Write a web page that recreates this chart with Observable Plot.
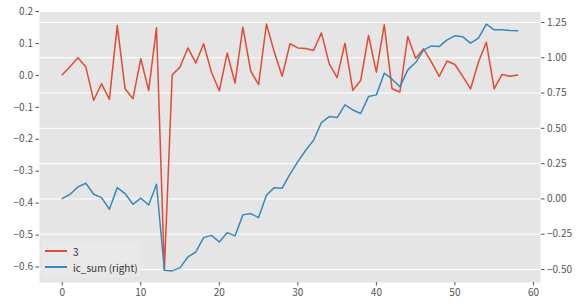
<!DOCTYPE html>
<html>
<head>
<meta charset="utf-8">
<script src="https://cdn.jsdelivr.net/npm/d3@7"></script>
<script src="https://cdn.jsdelivr.net/npm/@observablehq/plot@0.6"></script>
<style>
  body { margin: 0; background: #fff; }
  #wrap { position: relative; width: 583px; height: 308px; font-family: "Noto Sans CJK SC", "Noto Sans", sans-serif; }
  #legend { position: absolute; left: 42px; top: 241px; width: 98px; height: 36px; background: #E9E9E9; border-radius: 3px; font-size: 10px; color: #333; }
  .row { position: absolute; left: 3px; height: 14px; display: flex; align-items: center; }
  .sw { display: inline-block; width: 22px; height: 2px; margin-right: 6px; }
</style>
</head>
<body>
<div id="wrap"></div>
<script>
// ---- data ----
const idx = d3.range(59);
const s3 = [0.002, 0.028, 0.055, 0.026, -0.078, -0.026, -0.075, 0.156, -0.042, -0.073,
            0.052, -0.047, 0.149, -0.61, 0.002, 0.026, 0.086, 0.039, 0.099, 0.010,
            -0.048, 0.070, -0.024, 0.151, 0.013, -0.029, 0.161, 0.073, -0.003, 0.099,
            0.086, 0.084, 0.078, 0.133, 0.036, -0.007, 0.101, -0.047, -0.016, 0.125,
            0.010, 0.159, -0.042, -0.052, 0.122, 0.054, 0.083, 0.042, -0.003, 0.045,
            0.034, -0.003, -0.042, 0.042, 0.104, -0.042, 0.003, -0.003, 0.001];
const icSum = [0.002, 0.033, 0.085, 0.111, 0.033, 0.009, -0.073, 0.080, 0.038, -0.038,
               0.005, -0.043, 0.104, -0.505, -0.510, -0.487, -0.411, -0.376, -0.274, -0.258,
               -0.305, -0.239, -0.262, -0.113, -0.104, -0.132, 0.026, 0.080, 0.076, 0.175,
               0.264, 0.345, 0.416, 0.541, 0.583, 0.576, 0.666, 0.630, 0.605, 0.725,
               0.737, 0.891, 0.848, 0.794, 0.914, 0.966, 1.054, 1.084, 1.079, 1.127,
               1.155, 1.148, 1.103, 1.139, 1.238, 1.198, 1.198, 1.193, 1.191];
const xTicks = [0, 10, 20, 30, 40, 50, 60];
const leftTicks = [0.2, 0.1, 0.0, -0.1, -0.2, -0.3, -0.4, -0.5, -0.6];
const rightTicks = [1.25, 1.00, 0.75, 0.50, 0.25, 0.00, -0.25, -0.50];
const seriesNames = ["3", "ic_sum (right)"];
const colors = ["#E24A33", "#348ABD"];

// ---- scales ----
const leftDomain = [-0.6485, 0.1985];
const rightDomain = [-0.592, 1.324];
const r2y = d3.scaleLinear().domain(rightDomain).range(leftDomain);

const rows = idx.map(i => ({i, a: s3[i], b: r2y(icSum[i])}));
const minus = s => s.replace("-", "\u2212");

const chart = Plot.plot({
  width: 583,
  height: 308,
  marginLeft: 39,
  marginRight: 43,
  marginTop: 11.5,
  marginBottom: 26,
  style: {fontFamily: '"Noto Sans CJK SC", "Noto Sans", sans-serif', fontSize: "10px", background: "transparent"},
  x: {domain: [-2.9, 60.9], label: null},
  y: {domain: leftDomain, label: null},
  marks: [
    Plot.frame({fill: "#E5E5E5", stroke: null}),
    Plot.ruleY(rightTicks.map(t => r2y(t)), {stroke: "white", strokeWidth: 1}),
    Plot.line(rows, {x: "i", y: "a", stroke: colors[0], strokeWidth: 1.5}),
    Plot.line(rows, {x: "i", y: "b", stroke: colors[1], strokeWidth: 1.5}),
    Plot.axisX({ticks: xTicks, tickSize: 3.5, tickPadding: 3, color: "#555", label: null, tickFormat: d => String(d)}),
    Plot.axisY({ticks: leftTicks, anchor: "left", tickSize: 3.5, tickPadding: 3, color: "#555", label: null,
                tickFormat: d => minus(d.toFixed(1))}),
    Plot.axisY({ticks: rightTicks.map(t => r2y(t)), anchor: "right", tickSize: 3.5, tickPadding: 3, color: "#555", label: null,
                tickFormat: d => { let v = Math.round(r2y.invert(d) * 100) / 100; if (Object.is(v, -0)) v = 0; return minus(v.toFixed(2)); }})
  ]
});

const wrap = document.getElementById("wrap");
wrap.appendChild(chart);
const lg = document.createElement("div");
lg.id = "legend";
lg.innerHTML = seriesNames.map((n, k) =>
  `<div class="row" style="top:${3 + k * 16}px"><span class="sw" style="background:${colors[k]}"></span><span>${n}</span></div>`
).join("");
wrap.appendChild(lg);
</script>
</body>
</html>
